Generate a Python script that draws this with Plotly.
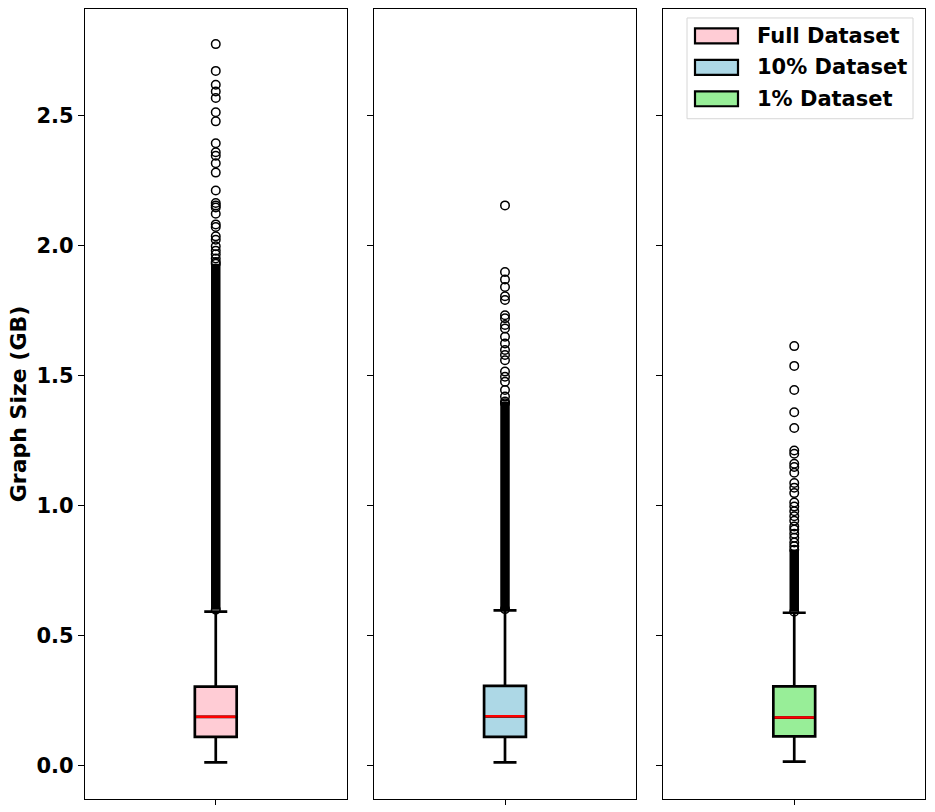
import plotly.graph_objects as go
from plotly.subplots import make_subplots

# Datasets shown side by side
names = ['Full Dataset', '10% Dataset', '1% Dataset']
fills = ['#FFCCD5', '#ADD8E6', '#98EE98']

# Box statistics (GB)
lower_w = [0.013, 0.013, 0.016]
q1 = [0.111, 0.111, 0.113]
median = [0.188, 0.190, 0.185]
q3 = [0.304, 0.307, 0.305]
upper_w = [0.592, 0.597, 0.588]

# Range where the outlier circles overlap into a solid column
dense_lo = [0.600, 0.602, 0.592]
dense_hi = [1.930, 1.400, 0.830]

# Individual outliers visible above the solid column
out_full = [2.774, 2.671, 2.618, 2.592, 2.567, 2.512, 2.477, 2.393, 2.358, 2.345,
            2.316, 2.280, 2.211, 2.163, 2.154, 2.146, 2.122, 2.081, 2.071, 2.035,
            2.022, 1.997, 1.980, 1.966, 1.950, 1.936]
out_10 = [2.154, 1.898, 1.869, 1.840, 1.805, 1.790, 1.732, 1.720, 1.694, 1.681,
          1.649, 1.623, 1.598, 1.579, 1.559, 1.515, 1.495, 1.476, 1.444, 1.419,
          1.393]
out_1 = [1.613, 1.537, 1.444, 1.359, 1.298, 1.212, 1.199, 1.161, 1.148, 1.126,
         1.087, 1.069, 1.048, 1.012, 0.996, 0.978, 0.959, 0.942, 0.920, 0.908,
         0.892, 0.876, 0.858, 0.844]
outliers = [out_full, out_10, out_1]

BOX_W = 0.32
FONT = dict(family='DejaVu Sans', color='black', weight='bold')
W, H = 935, 812
ML, MR, MT, MB = 85, 10, 8, 12
PW, PH = W - ML - MR, H - MT - MB


def px(x):  # page pixel -> paper x
    return (x - ML) / PW


def py(y):  # page pixel -> paper y
    return (H - MB - y) / PH


fig = make_subplots(rows=1, cols=3, shared_yaxes=True, horizontal_spacing=0.033)

for i in range(3):
    col = i + 1
    fig.add_trace(go.Box(
        x=[0], q1=[q1[i]], median=[median[i]], q3=[q3[i]],
        lowerfence=[lower_w[i]], upperfence=[upper_w[i]],
        width=BOX_W, whiskerwidth=0.55, fillcolor=fills[i],
        line=dict(color='black', width=2.7), name=names[i],
        boxpoints=False, hoverinfo='skip', showlegend=False), row=1, col=col)
    # red median line on top of the box
    fig.add_trace(go.Scatter(
        x=[-BOX_W / 2 + 0.01, BOX_W / 2 - 0.01], y=[median[i], median[i]],
        mode='lines', line=dict(color='red', width=2.5), showlegend=False,
        hoverinfo='skip'), row=1, col=col)
    # solid part of the outlier column
    fig.add_trace(go.Scatter(
        x=[0, 0], y=[dense_lo[i], dense_hi[i]], mode='lines+markers',
        line=dict(color='black', width=9.5),
        marker=dict(symbol='circle-open', size=8.5, color='black', line=dict(width=1.5)),
        showlegend=False, hoverinfo='skip'), row=1, col=col)
    fig.add_trace(go.Scatter(
        x=[0] * len(outliers[i]), y=outliers[i], mode='markers',
        marker=dict(symbol='circle-open', size=8.5, color='black', line=dict(width=1.5)),
        showlegend=False, hoverinfo='skip'), row=1, col=col)

    fig.update_xaxes(range=[-1, 1], showline=True, mirror=True, linecolor='black',
                     linewidth=1.3, showgrid=False, zeroline=False,
                     tickvals=[0], ticktext=[''], ticks='outside', ticklen=5,
                     tickcolor='black', row=1, col=col)
    fig.update_yaxes(range=[-0.128, 2.909], showline=True, mirror=True,
                     linecolor='black', linewidth=1.3, showgrid=False, zeroline=False,
                     tickvals=[0, 0.5, 1.0, 1.5, 2.0, 2.5], ticks='outside', ticklen=6,
                     tickcolor='black', row=1, col=col)

fig.update_yaxes(tickformat='.1f', tickfont=dict(size=21, **FONT),
                 title=dict(text='Graph Size (GB)', font=dict(size=22, **FONT), standoff=3),
                 row=1, col=1)

# legend drawn like the matplotlib one: wide patches inside a light frame
fig.add_shape(type='rect', xref='paper', yref='paper',
              x0=px(687), x1=px(913), y0=py(118), y1=py(17),
              line=dict(color='#d6d6d6', width=1), fillcolor='white', layer='above')
row_y = [35, 66.5, 98]
for i in range(3):
    fig.add_shape(type='rect', xref='paper', yref='paper',
                  x0=px(695), x1=px(738), y0=py(row_y[i] + 7.5), y1=py(row_y[i] - 7.5),
                  line=dict(color='black', width=2.2), fillcolor=fills[i], layer='above')
    fig.add_annotation(text=names[i], xref='paper', yref='paper', x=px(755),
                       y=py(row_y[i]), xanchor='left', yanchor='middle', showarrow=False,
                       font=dict(size=21, **FONT))

fig.update_layout(
    width=W, height=H,
    margin=dict(l=ML, r=MR, t=MT, b=MB),
    plot_bgcolor='white', paper_bgcolor='white',
    showlegend=False,
)

fig.write_html('out.html', config={'displayModeBar': False},
               post_script="document.body.style.margin='0';")
